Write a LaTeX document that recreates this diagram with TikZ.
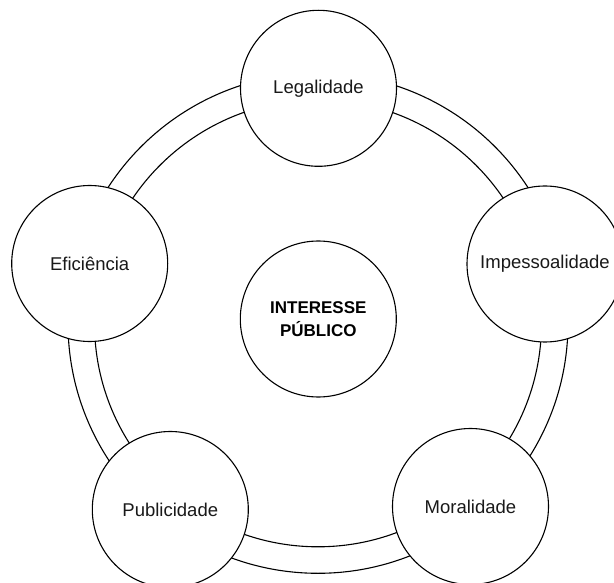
\documentclass[tikz,border=0pt]{standalone}
\usepackage{fontspec}
\setmainfont{Liberation Sans}
\tikzset{
  pcircle/.style={circle, draw=black, fill=white, line width=1.1pt, minimum size=156pt, inner sep=0pt, align=center, font=\fontsize{18.5}{22}\selectfont, text=black!90},
  ringline/.style={draw=black, line width=1.1pt}
}
\begin{document}
\begin{tikzpicture}[x=1pt,y=-1pt]
\useasboundingbox (0,0) rectangle (614,583);
\clip (0,0) rectangle (614,583);
\fill[white] (0,0) rectangle (614,583);
% ring
\coordinate (rc) at (318,323.3);
\draw[ringline] (rc) circle[radius=250];
\draw[ringline] (rc) circle[radius=223.5];
% nodes
\node[pcircle] (leg) at (318.5,88.3) {Legalidade};
\node[pcircle] (imp) at (545,264) {Impessoalidade};
\node[pcircle] (efi) at (89.7,263.5) {Eficiência};
\node[pcircle] (pub) at (170.3,509.5) {Publicidade};
\node[pcircle] (mor) at (470.5,506.5) {Moralidade};
\node[pcircle, font=\bfseries\fontsize{17}{22.5}\selectfont, text=black] (ctr) at (318.3,319) {INTERESSE\\PÚBLICO};
\end{tikzpicture}
\end{document}
